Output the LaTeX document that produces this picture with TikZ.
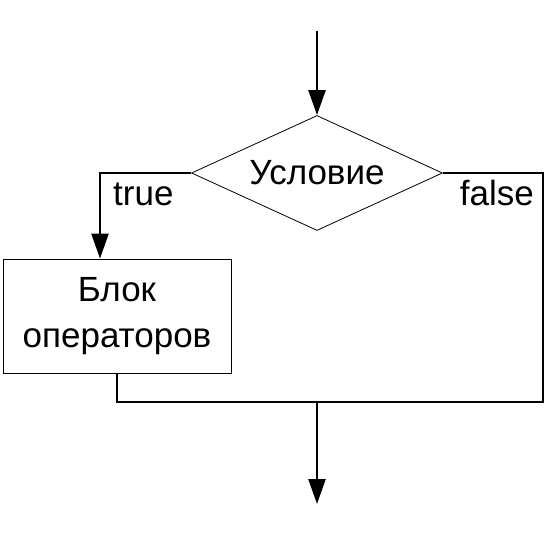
\documentclass[tikz,border=0pt]{standalone}
\usepackage{fontspec}
\setmainfont{Liberation Sans}
\usetikzlibrary{shapes.geometric,arrows.meta}
\begin{document}
\begin{tikzpicture}[x=1pt,y=-1pt,
  conn/.style={line width=2.4pt},
  arr/.style={conn,-{Triangle[length=25pt,width=17pt]}},
  shp/.style={draw,line width=0.8pt,inner sep=0pt},
  txt/.style={font=\fontsize{35}{46}\selectfont}]
\useasboundingbox (0,0) rectangle (550,535);
\node[shp,diamond,aspect=2.19,minimum width=251pt,minimum height=115pt,txt] (dia) at (317,173) {Условие};
\node[shp,rectangle,minimum width=228pt,minimum height=114pt,align=center,txt] (box) at (117,316) {Блок\\операторов};
\node[txt,anchor=base west,inner sep=0pt] (lt) at (113,205) {true};
\node[txt,anchor=base east,inner sep=0pt] (lf) at (534,205) {false};
\coordinate (start) at (317,31);
\coordinate (tl) at (100,173);
\coordinate (tr) at (543,173);
\coordinate (jr) at (543,402);
\coordinate (jm) at (317,402);
\coordinate (fin) at (317,504);
\draw[arr] (start) -- (dia.north);
\draw[arr] (dia.west) -- (tl) -- (tl |- box.north);
\draw[conn] (dia.east) -- (tr) -- (jr) -- (box.south |- jr) -- (box.south);
\draw[arr] (jm) -- (fin);
\end{tikzpicture}
\end{document}
